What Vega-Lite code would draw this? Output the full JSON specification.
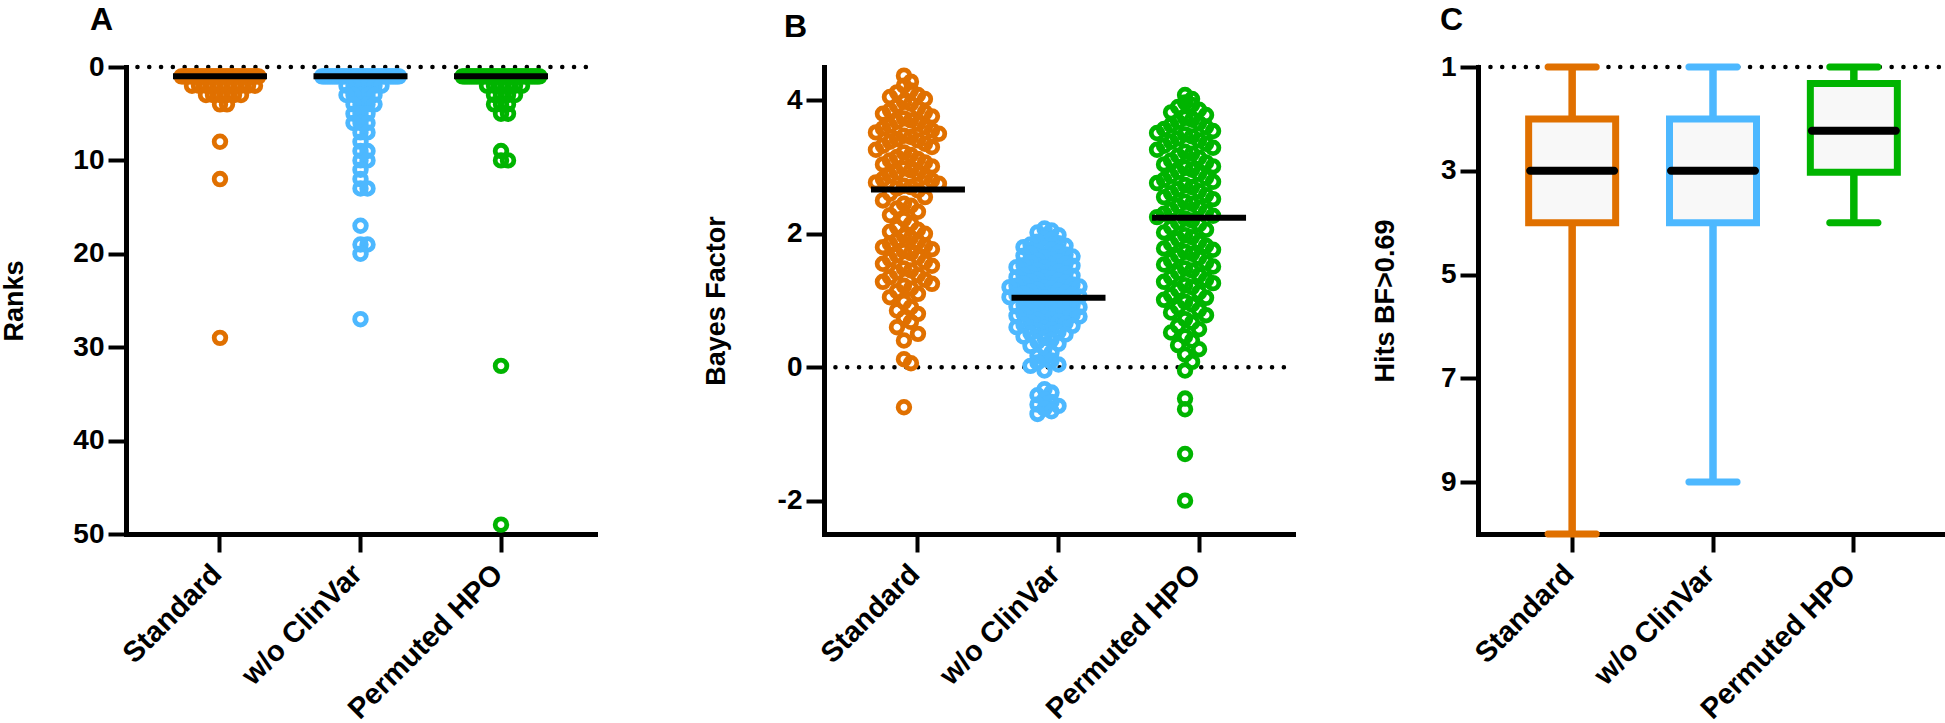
{
  "$schema": "https://vega.github.io/schema/vega-lite/v6.json",
  "background": "white",
  "padding": {"left": 0, "top": 4, "right": 0, "bottom": 0},
  "bounds": "flush",
  "spacing": 229,
  "datasets": {
    "ranks": [
      {"g":"Standard","r":1},{"g":"Standard","r":1},{"g":"Standard","r":1},{"g":"Standard","r":1},{"g":"Standard","r":1},
      {"g":"Standard","r":1},{"g":"Standard","r":1},{"g":"Standard","r":1},{"g":"Standard","r":1},{"g":"Standard","r":1},
      {"g":"Standard","r":1},{"g":"Standard","r":1},{"g":"Standard","r":1},{"g":"Standard","r":1},{"g":"Standard","r":1},
      {"g":"Standard","r":1},{"g":"Standard","r":1},{"g":"Standard","r":1},{"g":"Standard","r":1},{"g":"Standard","r":1},
      {"g":"Standard","r":1},{"g":"Standard","r":1},{"g":"Standard","r":1},{"g":"Standard","r":1},{"g":"Standard","r":1},
      {"g":"Standard","r":1},{"g":"Standard","r":1},{"g":"Standard","r":1},{"g":"Standard","r":1},{"g":"Standard","r":1},
      {"g":"Standard","r":1},{"g":"Standard","r":1},{"g":"Standard","r":1},{"g":"Standard","r":1},{"g":"Standard","r":1},
      {"g":"Standard","r":1},{"g":"Standard","r":1},{"g":"Standard","r":1},{"g":"Standard","r":1},{"g":"Standard","r":1},
      {"g":"Standard","r":1},{"g":"Standard","r":1},{"g":"Standard","r":1},{"g":"Standard","r":1},{"g":"Standard","r":1},
      {"g":"Standard","r":2},{"g":"Standard","r":2},{"g":"Standard","r":2},{"g":"Standard","r":2},{"g":"Standard","r":2},
      {"g":"Standard","r":2},{"g":"Standard","r":2},{"g":"Standard","r":2},{"g":"Standard","r":2},{"g":"Standard","r":2},
      {"g":"Standard","r":3},{"g":"Standard","r":3},{"g":"Standard","r":3},{"g":"Standard","r":3},{"g":"Standard","r":3},
      {"g":"Standard","r":3},{"g":"Standard","r":4},{"g":"Standard","r":4},{"g":"Standard","r":8},{"g":"Standard","r":12},
      {"g":"Standard","r":29},
      {"g":"w/o ClinVar","r":1},{"g":"w/o ClinVar","r":1},{"g":"w/o ClinVar","r":1},{"g":"w/o ClinVar","r":1},{"g":"w/o ClinVar","r":1},
      {"g":"w/o ClinVar","r":1},{"g":"w/o ClinVar","r":1},{"g":"w/o ClinVar","r":1},{"g":"w/o ClinVar","r":1},{"g":"w/o ClinVar","r":1},
      {"g":"w/o ClinVar","r":1},{"g":"w/o ClinVar","r":1},{"g":"w/o ClinVar","r":1},{"g":"w/o ClinVar","r":1},{"g":"w/o ClinVar","r":1},
      {"g":"w/o ClinVar","r":1},{"g":"w/o ClinVar","r":1},{"g":"w/o ClinVar","r":1},{"g":"w/o ClinVar","r":1},{"g":"w/o ClinVar","r":1},
      {"g":"w/o ClinVar","r":1},{"g":"w/o ClinVar","r":1},{"g":"w/o ClinVar","r":1},{"g":"w/o ClinVar","r":1},{"g":"w/o ClinVar","r":1},
      {"g":"w/o ClinVar","r":1},{"g":"w/o ClinVar","r":1},{"g":"w/o ClinVar","r":1},{"g":"w/o ClinVar","r":1},{"g":"w/o ClinVar","r":1},
      {"g":"w/o ClinVar","r":1},{"g":"w/o ClinVar","r":1},{"g":"w/o ClinVar","r":1},{"g":"w/o ClinVar","r":1},{"g":"w/o ClinVar","r":1},
      {"g":"w/o ClinVar","r":1},{"g":"w/o ClinVar","r":1},{"g":"w/o ClinVar","r":1},{"g":"w/o ClinVar","r":1},{"g":"w/o ClinVar","r":1},
      {"g":"w/o ClinVar","r":1},{"g":"w/o ClinVar","r":1},{"g":"w/o ClinVar","r":1},{"g":"w/o ClinVar","r":1},{"g":"w/o ClinVar","r":1},
      {"g":"w/o ClinVar","r":2},{"g":"w/o ClinVar","r":2},{"g":"w/o ClinVar","r":2},{"g":"w/o ClinVar","r":2},{"g":"w/o ClinVar","r":2},
      {"g":"w/o ClinVar","r":2},{"g":"w/o ClinVar","r":3},{"g":"w/o ClinVar","r":3},{"g":"w/o ClinVar","r":3},{"g":"w/o ClinVar","r":3},
      {"g":"w/o ClinVar","r":3},{"g":"w/o ClinVar","r":4},{"g":"w/o ClinVar","r":4},{"g":"w/o ClinVar","r":4},{"g":"w/o ClinVar","r":4},
      {"g":"w/o ClinVar","r":5},{"g":"w/o ClinVar","r":5},{"g":"w/o ClinVar","r":5},{"g":"w/o ClinVar","r":6},{"g":"w/o ClinVar","r":6},
      {"g":"w/o ClinVar","r":6},{"g":"w/o ClinVar","r":7},{"g":"w/o ClinVar","r":7},{"g":"w/o ClinVar","r":8},{"g":"w/o ClinVar","r":9},
      {"g":"w/o ClinVar","r":9},{"g":"w/o ClinVar","r":10},{"g":"w/o ClinVar","r":10},{"g":"w/o ClinVar","r":11},{"g":"w/o ClinVar","r":12},
      {"g":"w/o ClinVar","r":13},{"g":"w/o ClinVar","r":13},{"g":"w/o ClinVar","r":17},{"g":"w/o ClinVar","r":19},{"g":"w/o ClinVar","r":19},
      {"g":"w/o ClinVar","r":20},{"g":"w/o ClinVar","r":27},
      {"g":"Permuted HPO","r":1},{"g":"Permuted HPO","r":1},{"g":"Permuted HPO","r":1},{"g":"Permuted HPO","r":1},{"g":"Permuted HPO","r":1},
      {"g":"Permuted HPO","r":1},{"g":"Permuted HPO","r":1},{"g":"Permuted HPO","r":1},{"g":"Permuted HPO","r":1},{"g":"Permuted HPO","r":1},
      {"g":"Permuted HPO","r":1},{"g":"Permuted HPO","r":1},{"g":"Permuted HPO","r":1},{"g":"Permuted HPO","r":1},{"g":"Permuted HPO","r":1},
      {"g":"Permuted HPO","r":1},{"g":"Permuted HPO","r":1},{"g":"Permuted HPO","r":1},{"g":"Permuted HPO","r":1},{"g":"Permuted HPO","r":1},
      {"g":"Permuted HPO","r":1},{"g":"Permuted HPO","r":1},{"g":"Permuted HPO","r":1},{"g":"Permuted HPO","r":1},{"g":"Permuted HPO","r":1},
      {"g":"Permuted HPO","r":1},{"g":"Permuted HPO","r":1},{"g":"Permuted HPO","r":1},{"g":"Permuted HPO","r":1},{"g":"Permuted HPO","r":1},
      {"g":"Permuted HPO","r":1},{"g":"Permuted HPO","r":1},{"g":"Permuted HPO","r":1},{"g":"Permuted HPO","r":1},{"g":"Permuted HPO","r":1},
      {"g":"Permuted HPO","r":1},{"g":"Permuted HPO","r":1},{"g":"Permuted HPO","r":1},{"g":"Permuted HPO","r":1},{"g":"Permuted HPO","r":1},
      {"g":"Permuted HPO","r":1},{"g":"Permuted HPO","r":1},{"g":"Permuted HPO","r":1},{"g":"Permuted HPO","r":1},{"g":"Permuted HPO","r":1},
      {"g":"Permuted HPO","r":2},{"g":"Permuted HPO","r":2},{"g":"Permuted HPO","r":2},{"g":"Permuted HPO","r":2},{"g":"Permuted HPO","r":2},
      {"g":"Permuted HPO","r":2},{"g":"Permuted HPO","r":3},{"g":"Permuted HPO","r":3},{"g":"Permuted HPO","r":3},{"g":"Permuted HPO","r":3},
      {"g":"Permuted HPO","r":4},{"g":"Permuted HPO","r":4},{"g":"Permuted HPO","r":4},{"g":"Permuted HPO","r":5},{"g":"Permuted HPO","r":5},
      {"g":"Permuted HPO","r":9},{"g":"Permuted HPO","r":10},{"g":"Permuted HPO","r":10},{"g":"Permuted HPO","r":32},{"g":"Permuted HPO","r":49}
    ],
    "bf": [
      {"g":"Standard","v":4.37},{"g":"Standard","v":4.28},{"g":"Standard","v":4.22},{"g":"Standard","v":4.15},{"g":"Standard","v":4.12},
      {"g":"Standard","v":4.08},{"g":"Standard","v":4.05},{"g":"Standard","v":4.02},{"g":"Standard","v":3.98},{"g":"Standard","v":3.95},
      {"g":"Standard","v":3.92},{"g":"Standard","v":3.88},{"g":"Standard","v":3.85},{"g":"Standard","v":3.82},{"g":"Standard","v":3.80},
      {"g":"Standard","v":3.76},{"g":"Standard","v":3.73},{"g":"Standard","v":3.70},{"g":"Standard","v":3.68},{"g":"Standard","v":3.65},
      {"g":"Standard","v":3.62},{"g":"Standard","v":3.60},{"g":"Standard","v":3.58},{"g":"Standard","v":3.55},{"g":"Standard","v":3.52},
      {"g":"Standard","v":3.50},{"g":"Standard","v":3.47},{"g":"Standard","v":3.45},{"g":"Standard","v":3.42},{"g":"Standard","v":3.40},
      {"g":"Standard","v":3.38},{"g":"Standard","v":3.35},{"g":"Standard","v":3.32},{"g":"Standard","v":3.30},{"g":"Standard","v":3.26},
      {"g":"Standard","v":3.22},{"g":"Standard","v":3.18},{"g":"Standard","v":3.15},{"g":"Standard","v":3.12},{"g":"Standard","v":3.10},
      {"g":"Standard","v":3.07},{"g":"Standard","v":3.04},{"g":"Standard","v":3.01},{"g":"Standard","v":2.98},{"g":"Standard","v":2.95},
      {"g":"Standard","v":2.92},{"g":"Standard","v":2.90},{"g":"Standard","v":2.87},{"g":"Standard","v":2.85},{"g":"Standard","v":2.82},
      {"g":"Standard","v":2.80},{"g":"Standard","v":2.77},{"g":"Standard","v":2.75},{"g":"Standard","v":2.72},{"g":"Standard","v":2.70},
      {"g":"Standard","v":2.68},{"g":"Standard","v":2.65},{"g":"Standard","v":2.60},{"g":"Standard","v":2.55},{"g":"Standard","v":2.50},
      {"g":"Standard","v":2.45},{"g":"Standard","v":2.42},{"g":"Standard","v":2.38},{"g":"Standard","v":2.33},{"g":"Standard","v":2.28},
      {"g":"Standard","v":2.22},{"g":"Standard","v":2.15},{"g":"Standard","v":2.10},{"g":"Standard","v":2.06},{"g":"Standard","v":2.03},
      {"g":"Standard","v":2.00},{"g":"Standard","v":1.97},{"g":"Standard","v":1.94},{"g":"Standard","v":1.91},{"g":"Standard","v":1.88},
      {"g":"Standard","v":1.85},{"g":"Standard","v":1.82},{"g":"Standard","v":1.80},{"g":"Standard","v":1.77},{"g":"Standard","v":1.74},
      {"g":"Standard","v":1.71},{"g":"Standard","v":1.68},{"g":"Standard","v":1.65},{"g":"Standard","v":1.62},{"g":"Standard","v":1.58},
      {"g":"Standard","v":1.55},{"g":"Standard","v":1.52},{"g":"Standard","v":1.48},{"g":"Standard","v":1.45},{"g":"Standard","v":1.42},
      {"g":"Standard","v":1.38},{"g":"Standard","v":1.35},{"g":"Standard","v":1.31},{"g":"Standard","v":1.28},{"g":"Standard","v":1.25},
      {"g":"Standard","v":1.22},{"g":"Standard","v":1.18},{"g":"Standard","v":1.14},{"g":"Standard","v":1.10},{"g":"Standard","v":1.05},
      {"g":"Standard","v":0.98},{"g":"Standard","v":0.90},{"g":"Standard","v":0.85},{"g":"Standard","v":0.80},{"g":"Standard","v":0.74},
      {"g":"Standard","v":0.68},{"g":"Standard","v":0.60},{"g":"Standard","v":0.50},{"g":"Standard","v":0.40},{"g":"Standard","v":0.12},
      {"g":"Standard","v":0.06},{"g":"Standard","v":-0.60},
      {"g":"w/o ClinVar","v":2.08},{"g":"w/o ClinVar","v":2.05},{"g":"w/o ClinVar","v":2.02},{"g":"w/o ClinVar","v":1.98},
      {"g":"w/o ClinVar","v":1.93},{"g":"w/o ClinVar","v":1.91},{"g":"w/o ClinVar","v":1.88},{"g":"w/o ClinVar","v":1.86},{"g":"w/o ClinVar","v":1.84},{"g":"w/o ClinVar","v":1.82},{"g":"w/o ClinVar","v":1.80},
      {"g":"w/o ClinVar","v":1.78},{"g":"w/o ClinVar","v":1.76},{"g":"w/o ClinVar","v":1.74},{"g":"w/o ClinVar","v":1.72},{"g":"w/o ClinVar","v":1.70},{"g":"w/o ClinVar","v":1.69},{"g":"w/o ClinVar","v":1.67},{"g":"w/o ClinVar","v":1.66},
      {"g":"w/o ClinVar","v":1.64},{"g":"w/o ClinVar","v":1.62},{"g":"w/o ClinVar","v":1.60},{"g":"w/o ClinVar","v":1.58},{"g":"w/o ClinVar","v":1.57},{"g":"w/o ClinVar","v":1.55},{"g":"w/o ClinVar","v":1.53},{"g":"w/o ClinVar","v":1.52},{"g":"w/o ClinVar","v":1.50},
      {"g":"w/o ClinVar","v":1.49},{"g":"w/o ClinVar","v":1.47},{"g":"w/o ClinVar","v":1.45},{"g":"w/o ClinVar","v":1.43},{"g":"w/o ClinVar","v":1.41},{"g":"w/o ClinVar","v":1.40},{"g":"w/o ClinVar","v":1.38},{"g":"w/o ClinVar","v":1.37},{"g":"w/o ClinVar","v":1.35},
      {"g":"w/o ClinVar","v":1.34},{"g":"w/o ClinVar","v":1.33},{"g":"w/o ClinVar","v":1.31},{"g":"w/o ClinVar","v":1.30},{"g":"w/o ClinVar","v":1.28},{"g":"w/o ClinVar","v":1.27},{"g":"w/o ClinVar","v":1.25},{"g":"w/o ClinVar","v":1.24},{"g":"w/o ClinVar","v":1.22},{"g":"w/o ClinVar","v":1.21},{"g":"w/o ClinVar","v":1.20},
      {"g":"w/o ClinVar","v":1.19},{"g":"w/o ClinVar","v":1.18},{"g":"w/o ClinVar","v":1.16},{"g":"w/o ClinVar","v":1.15},{"g":"w/o ClinVar","v":1.13},{"g":"w/o ClinVar","v":1.12},{"g":"w/o ClinVar","v":1.10},{"g":"w/o ClinVar","v":1.09},{"g":"w/o ClinVar","v":1.08},{"g":"w/o ClinVar","v":1.06},{"g":"w/o ClinVar","v":1.05},
      {"g":"w/o ClinVar","v":1.04},{"g":"w/o ClinVar","v":1.02},{"g":"w/o ClinVar","v":1.00},{"g":"w/o ClinVar","v":0.99},{"g":"w/o ClinVar","v":0.97},{"g":"w/o ClinVar","v":0.96},{"g":"w/o ClinVar","v":0.94},{"g":"w/o ClinVar","v":0.93},{"g":"w/o ClinVar","v":0.91},{"g":"w/o ClinVar","v":0.90},
      {"g":"w/o ClinVar","v":0.89},{"g":"w/o ClinVar","v":0.87},{"g":"w/o ClinVar","v":0.86},{"g":"w/o ClinVar","v":0.84},{"g":"w/o ClinVar","v":0.83},{"g":"w/o ClinVar","v":0.81},{"g":"w/o ClinVar","v":0.80},{"g":"w/o ClinVar","v":0.78},{"g":"w/o ClinVar","v":0.77},{"g":"w/o ClinVar","v":0.76},
      {"g":"w/o ClinVar","v":0.74},{"g":"w/o ClinVar","v":0.72},{"g":"w/o ClinVar","v":0.71},{"g":"w/o ClinVar","v":0.69},{"g":"w/o ClinVar","v":0.67},{"g":"w/o ClinVar","v":0.66},{"g":"w/o ClinVar","v":0.64},{"g":"w/o ClinVar","v":0.62},{"g":"w/o ClinVar","v":0.60},
      {"g":"w/o ClinVar","v":0.59},{"g":"w/o ClinVar","v":0.57},{"g":"w/o ClinVar","v":0.55},{"g":"w/o ClinVar","v":0.53},{"g":"w/o ClinVar","v":0.51},{"g":"w/o ClinVar","v":0.49},{"g":"w/o ClinVar","v":0.46},
      {"g":"w/o ClinVar","v":0.44},{"g":"w/o ClinVar","v":0.41},{"g":"w/o ClinVar","v":0.38},{"g":"w/o ClinVar","v":0.35},{"g":"w/o ClinVar","v":0.32},
      {"g":"w/o ClinVar","v":0.28},{"g":"w/o ClinVar","v":0.22},{"g":"w/o ClinVar","v":0.17},
      {"g":"w/o ClinVar","v":0.13},{"g":"w/o ClinVar","v":0.10},{"g":"w/o ClinVar","v":0.07},{"g":"w/o ClinVar","v":0.04},{"g":"w/o ClinVar","v":0.02},
      {"g":"w/o ClinVar","v":-0.05},
      {"g":"w/o ClinVar","v":-0.33},{"g":"w/o ClinVar","v":-0.38},{"g":"w/o ClinVar","v":-0.42},
      {"g":"w/o ClinVar","v":-0.48},{"g":"w/o ClinVar","v":-0.52},{"g":"w/o ClinVar","v":-0.56},{"g":"w/o ClinVar","v":-0.58},
      {"g":"w/o ClinVar","v":-0.62},{"g":"w/o ClinVar","v":-0.66},{"g":"w/o ClinVar","v":-0.70},
      {"g":"Permuted HPO","v":4.08},{"g":"Permuted HPO","v":4.02},
      {"g":"Permuted HPO","v":3.97},{"g":"Permuted HPO","v":3.93},{"g":"Permuted HPO","v":3.90},{"g":"Permuted HPO","v":3.86},{"g":"Permuted HPO","v":3.82},{"g":"Permuted HPO","v":3.78},
      {"g":"Permuted HPO","v":3.74},{"g":"Permuted HPO","v":3.71},{"g":"Permuted HPO","v":3.68},{"g":"Permuted HPO","v":3.66},{"g":"Permuted HPO","v":3.63},{"g":"Permuted HPO","v":3.60},{"g":"Permuted HPO","v":3.57},{"g":"Permuted HPO","v":3.54},{"g":"Permuted HPO","v":3.51},
      {"g":"Permuted HPO","v":3.49},{"g":"Permuted HPO","v":3.46},{"g":"Permuted HPO","v":3.43},{"g":"Permuted HPO","v":3.40},{"g":"Permuted HPO","v":3.38},{"g":"Permuted HPO","v":3.35},{"g":"Permuted HPO","v":3.32},{"g":"Permuted HPO","v":3.29},{"g":"Permuted HPO","v":3.26},
      {"g":"Permuted HPO","v":3.23},{"g":"Permuted HPO","v":3.20},{"g":"Permuted HPO","v":3.17},{"g":"Permuted HPO","v":3.14},{"g":"Permuted HPO","v":3.10},{"g":"Permuted HPO","v":3.07},{"g":"Permuted HPO","v":3.04},{"g":"Permuted HPO","v":3.01},
      {"g":"Permuted HPO","v":2.99},{"g":"Permuted HPO","v":2.96},{"g":"Permuted HPO","v":2.93},{"g":"Permuted HPO","v":2.90},{"g":"Permuted HPO","v":2.87},{"g":"Permuted HPO","v":2.84},{"g":"Permuted HPO","v":2.81},{"g":"Permuted HPO","v":2.78},{"g":"Permuted HPO","v":2.76},
      {"g":"Permuted HPO","v":2.73},{"g":"Permuted HPO","v":2.70},{"g":"Permuted HPO","v":2.67},{"g":"Permuted HPO","v":2.64},{"g":"Permuted HPO","v":2.61},{"g":"Permuted HPO","v":2.58},{"g":"Permuted HPO","v":2.55},{"g":"Permuted HPO","v":2.52},
      {"g":"Permuted HPO","v":2.48},{"g":"Permuted HPO","v":2.45},{"g":"Permuted HPO","v":2.42},{"g":"Permuted HPO","v":2.39},{"g":"Permuted HPO","v":2.36},{"g":"Permuted HPO","v":2.33},{"g":"Permuted HPO","v":2.30},{"g":"Permuted HPO","v":2.27},{"g":"Permuted HPO","v":2.25},
      {"g":"Permuted HPO","v":2.23},{"g":"Permuted HPO","v":2.20},{"g":"Permuted HPO","v":2.17},{"g":"Permuted HPO","v":2.14},{"g":"Permuted HPO","v":2.10},{"g":"Permuted HPO","v":2.06},{"g":"Permuted HPO","v":2.02},
      {"g":"Permuted HPO","v":1.98},{"g":"Permuted HPO","v":1.95},{"g":"Permuted HPO","v":1.92},{"g":"Permuted HPO","v":1.88},{"g":"Permuted HPO","v":1.85},{"g":"Permuted HPO","v":1.82},{"g":"Permuted HPO","v":1.78},{"g":"Permuted HPO","v":1.76},
      {"g":"Permuted HPO","v":1.73},{"g":"Permuted HPO","v":1.70},{"g":"Permuted HPO","v":1.67},{"g":"Permuted HPO","v":1.64},{"g":"Permuted HPO","v":1.60},{"g":"Permuted HPO","v":1.57},{"g":"Permuted HPO","v":1.54},{"g":"Permuted HPO","v":1.51},
      {"g":"Permuted HPO","v":1.48},{"g":"Permuted HPO","v":1.45},{"g":"Permuted HPO","v":1.42},{"g":"Permuted HPO","v":1.38},{"g":"Permuted HPO","v":1.35},{"g":"Permuted HPO","v":1.31},{"g":"Permuted HPO","v":1.28},{"g":"Permuted HPO","v":1.26},
      {"g":"Permuted HPO","v":1.23},{"g":"Permuted HPO","v":1.20},{"g":"Permuted HPO","v":1.16},{"g":"Permuted HPO","v":1.12},{"g":"Permuted HPO","v":1.08},{"g":"Permuted HPO","v":1.04},{"g":"Permuted HPO","v":1.01},
      {"g":"Permuted HPO","v":0.98},{"g":"Permuted HPO","v":0.94},{"g":"Permuted HPO","v":0.90},{"g":"Permuted HPO","v":0.86},{"g":"Permuted HPO","v":0.82},{"g":"Permuted HPO","v":0.78},
      {"g":"Permuted HPO","v":0.72},{"g":"Permuted HPO","v":0.67},{"g":"Permuted HPO","v":0.62},{"g":"Permuted HPO","v":0.57},{"g":"Permuted HPO","v":0.52},
      {"g":"Permuted HPO","v":0.46},{"g":"Permuted HPO","v":0.40},{"g":"Permuted HPO","v":0.33},{"g":"Permuted HPO","v":0.27},
      {"g":"Permuted HPO","v":0.19},{"g":"Permuted HPO","v":0.08},
      {"g":"Permuted HPO","v":-0.05},{"g":"Permuted HPO","v":-0.47},{"g":"Permuted HPO","v":-0.63},{"g":"Permuted HPO","v":-1.30},{"g":"Permuted HPO","v":-2.00}
    ],
    "hits": [
      {"g":"Standard","lo":1,"q1":2,"med":3,"q3":4,"hi":10},
      {"g":"w/o ClinVar","lo":1,"q1":2,"med":3,"q3":4,"hi":9},
      {"g":"Permuted HPO","lo":1,"q1":1.32,"med":2.23,"q3":3.03,"hi":4}
    ]
  },
  "hconcat": [
    {
      "width": 469,
      "height": 467,
      "title": {"text": "A", "dx": -36, "offset": 16},
      "layer": [
        {
          "data": {"values": [{"ref": 0}]},
          "mark": {"type": "rule", "color": "black", "strokeWidth": 4.5, "strokeCap": "round", "strokeDash": [0.1, 11.7], "strokeDashOffset": 2.7},
          "encoding": {
            "y": {"field": "ref", "type": "quantitative", "scale": {"domain": [0, 50], "reverse": true, "nice": false, "zero": false},
                  "axis": {"title": "Ranks", "values": [0, 10, 20, 30, 40, 50], "format": "d", "titlePadding": 44}}
          }
        },
        {
          "data": {"name": "ranks"},
          "transform": [{"window": [{"op": "row_number", "as": "rn"}], "groupby": ["g", "r"]}],
          "mark": {"type": "point", "filled": false, "size": 135, "strokeWidth": 4.8, "opacity": 1},
          "encoding": {
            "x": {"field": "g", "type": "nominal", "title": null,
                  "scale": {"type": "band", "domain": ["Standard", "w/o ClinVar", "Permuted HPO"], "paddingInner": 0.452, "paddingOuter": 0.395}},
            "xOffset": {"field": "rn", "type": "nominal",
                  "scale": {"domain": [13,14,11,15,16,17,9,18,19,20,7,21,22,23,5,24,25,26,3,27,28,29,1,30,31,32,2,33,34,35,4,36,37,38,6,39,40,41,8,42,43,44,10,45,12], "paddingInner": 0, "paddingOuter": 0}},
            "y": {"field": "r", "type": "quantitative"},
            "color": {"field": "g", "type": "nominal", "legend": null,
                  "scale": {"domain": ["Standard", "w/o ClinVar", "Permuted HPO"], "range": ["#E07000", "#4DB8FF", "#00B400"]}}
          }
        },
        {
          "data": {"name": "ranks"},
          "mark": {"type": "tick", "color": "black", "size": 94, "thickness": 6, "opacity": 1},
          "encoding": {
            "x": {"field": "g", "type": "nominal", "title": null},
            "y": {"aggregate": "median", "field": "r", "type": "quantitative"}
          }
        }
      ]
    },
    {
      "bounds": "flush",
      "spacing": 185,
      "hconcat": [
        {
          "width": 469,
          "height": 467,
          "title": {"text": "B", "dx": -40, "offset": 16},
          "layer": [
            {
              "data": {"values": [{"ref": 0}]},
              "mark": {"type": "rule", "color": "black", "strokeWidth": 4.5, "strokeCap": "round", "strokeDash": [0.1, 11.7], "strokeDashOffset": 2.7},
              "encoding": {
                "y": {"field": "ref", "type": "quantitative", "scale": {"domain": [-2.5, 4.5], "nice": false, "zero": false},
                      "axis": {"title": "Bayes Factor", "values": [-2, 0, 2, 4], "format": "d", "titlePadding": 47, "labelExpr": "replace(datum.label, '\u2212', '-')"}}
              }
            },
            {
              "data": {"name": "bf"},
              "transform": [
                {"filter": "datum.g === 'Standard'"},
                {"bin": {"step": 0.25}, "field": "v", "as": "vb"},
                {"window": [{"op": "row_number", "as": "rn"}], "groupby": ["vb"]}
              ],
              "mark": {"type": "point", "filled": false, "size": 135, "strokeWidth": 4.8, "opacity": 1},
              "encoding": {
                "x": {"field": "g", "type": "nominal", "title": null,
                      "scale": {"type": "band", "domain": ["Standard", "w/o ClinVar", "Permuted HPO"], "paddingInner": 0.253, "paddingOuter": 0.295}},
                "xOffset": {"field": "rn", "type": "nominal", "scale": {"domain": [11,9,7,5,3,1,2,4,6,8,10], "paddingInner": 0, "paddingOuter": 0}},
                "y": {"field": "v", "type": "quantitative"},
                "color": {"field": "g", "type": "nominal", "legend": null,
                      "scale": {"domain": ["Standard", "w/o ClinVar", "Permuted HPO"], "range": ["#E07000", "#4DB8FF", "#00B400"]}}
              }
            },
            {
              "data": {"name": "bf"},
              "transform": [
                {"filter": "datum.g === 'w/o ClinVar'"},
                {"bin": {"step": 0.15}, "field": "v", "as": "vb"},
                {"window": [{"op": "row_number", "as": "rn"}], "groupby": ["vb"]}
              ],
              "mark": {"type": "point", "filled": false, "size": 135, "strokeWidth": 4.8, "opacity": 1},
              "encoding": {
                "x": {"field": "g", "type": "nominal", "title": null},
                "xOffset": {"field": "rn", "type": "nominal", "scale": {"domain": [11,9,7,5,3,1,2,4,6,8,10], "paddingInner": 0, "paddingOuter": 0}},
                "y": {"field": "v", "type": "quantitative"},
                "color": {"field": "g", "type": "nominal", "legend": null}
              }
            },
            {
              "data": {"name": "bf"},
              "transform": [
                {"filter": "datum.g === 'Permuted HPO'"},
                {"bin": {"step": 0.25}, "field": "v", "as": "vb"},
                {"window": [{"op": "row_number", "as": "rn"}], "groupby": ["vb"]}
              ],
              "mark": {"type": "point", "filled": false, "size": 135, "strokeWidth": 4.8, "opacity": 1},
              "encoding": {
                "x": {"field": "g", "type": "nominal", "title": null},
                "xOffset": {"field": "rn", "type": "nominal", "scale": {"domain": [11,9,7,5,3,1,2,4,6,8,10], "paddingInner": 0, "paddingOuter": 0}},
                "y": {"field": "v", "type": "quantitative"},
                "color": {"field": "g", "type": "nominal", "legend": null}
              }
            },
            {
              "data": {"name": "bf"},
              "mark": {"type": "tick", "color": "black", "size": 94, "thickness": 6, "opacity": 1},
              "encoding": {
                "x": {"field": "g", "type": "nominal", "title": null},
                "y": {"aggregate": "median", "field": "v", "type": "quantitative"}
              }
            }
          ]
        },
        {
          "width": 470,
          "height": 467,
          "title": {"text": "C", "dx": -38, "offset": 16},
          "layer": [
            {
              "data": {"values": [{"ref": 1}]},
              "mark": {"type": "rule", "color": "black", "strokeWidth": 4.5, "strokeCap": "round", "strokeDash": [0.1, 11.7], "strokeDashOffset": 2.7},
              "encoding": {
                "y": {"field": "ref", "type": "quantitative", "scale": {"domain": [1, 10], "reverse": true, "nice": false, "zero": false},
                      "axis": {"title": "Hits BF>0.69", "values": [1, 3, 5, 7, 9], "format": "d", "titlePadding": 41}}
              }
            },
            {
              "data": {"name": "hits"},
              "mark": {"type": "rule", "strokeWidth": 7.5},
              "encoding": {
                "x": {"field": "g", "type": "nominal", "title": null,
                      "scale": {"type": "band", "domain": ["Standard", "w/o ClinVar", "Permuted HPO"], "paddingInner": 0.381, "paddingOuter": 0.359}},
                "y": {"field": "lo", "type": "quantitative"},
                "y2": {"field": "hi"},
                "color": {"field": "g", "type": "nominal", "legend": null,
                      "scale": {"domain": ["Standard", "w/o ClinVar", "Permuted HPO"], "range": ["#E07000", "#4DB8FF", "#00B400"]}}
              }
            },
            {
              "data": {"name": "hits"},
              "mark": {"type": "tick", "size": 55, "thickness": 7, "cornerRadius": 3, "opacity": 1},
              "encoding": {
                "x": {"field": "g", "type": "nominal", "title": null},
                "y": {"field": "lo", "type": "quantitative"},
                "color": {"field": "g", "type": "nominal", "legend": null}
              }
            },
            {
              "data": {"name": "hits"},
              "mark": {"type": "tick", "size": 55, "thickness": 7, "cornerRadius": 3, "opacity": 1},
              "encoding": {
                "x": {"field": "g", "type": "nominal", "title": null},
                "y": {"field": "hi", "type": "quantitative"},
                "color": {"field": "g", "type": "nominal", "legend": null}
              }
            },
            {
              "data": {"name": "hits"},
              "mark": {"type": "bar", "width": 87, "fill": "#f8f8f8", "strokeWidth": 7, "strokeJoin": "miter"},
              "encoding": {
                "x": {"field": "g", "type": "nominal", "title": null},
                "y": {"field": "q1", "type": "quantitative"},
                "y2": {"field": "q3"},
                "stroke": {"field": "g", "type": "nominal", "legend": null,
                      "scale": {"domain": ["Standard", "w/o ClinVar", "Permuted HPO"], "range": ["#E07000", "#4DB8FF", "#00B400"]}}
              }
            },
            {
              "data": {"name": "hits"},
              "mark": {"type": "tick", "color": "black", "size": 92, "thickness": 8, "cornerRadius": 4, "opacity": 1},
              "encoding": {
                "x": {"field": "g", "type": "nominal", "title": null},
                "y": {"field": "med", "type": "quantitative"}
              }
            }
          ]
        }
      ]
    }
  ],
  "config": {
    "view": {"stroke": null},
    "font": "Liberation Sans",
    "axis": {
      "domainColor": "#000", "domainWidth": 5, "domainCap": "square",
      "tickColor": "#000", "tickWidth": 4, "tickSize": 18,
      "labelFont": "Liberation Sans", "labelFontSize": 28, "labelFontWeight": "bold", "labelColor": "#000", "labelPadding": 4, "labelLimit": 0,
      "titleFont": "Liberation Sans", "titleFontSize": 27, "titleFontWeight": "bold", "titleColor": "#000",
      "grid": false
    },
    "axisX": {"labelAngle": -45, "labelAlign": "right", "labelBaseline": "middle", "labelPadding": 17, "labelOffset": -3, "labelFontSize": 29},
    "axisY": {"labelFlush": false, "labelOverlap": false},
    "title": {"font": "Liberation Sans", "fontSize": 32, "fontWeight": "bold", "color": "#000", "anchor": "start", "frame": "group", "baseline": "top"}
  }
}
